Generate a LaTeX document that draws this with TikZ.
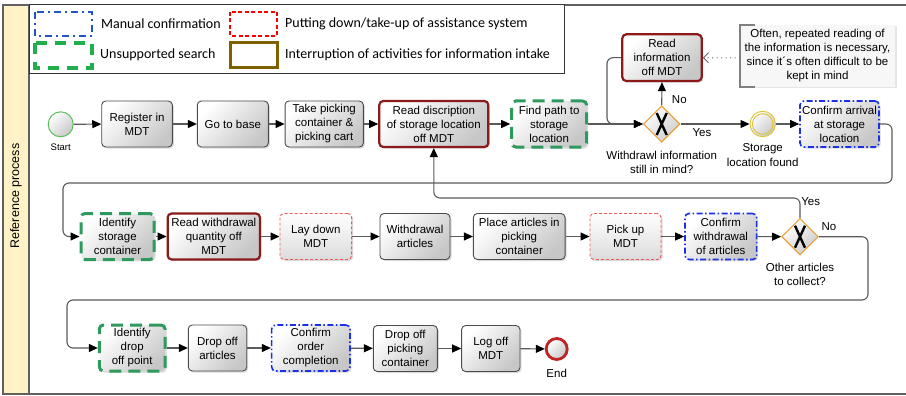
\documentclass[tikz,border=0pt]{standalone}
\usepackage{fontspec}
\setmainfont{Liberation Sans}
\newfontfamily\legendfont{Carlito}
\usetikzlibrary{arrows.meta,shapes.geometric,shadows}

\definecolor{lanefill}{HTML}{FFF2C6}
\definecolor{frame}{HTML}{606060}
\definecolor{interrupt}{HTML}{8B1A1A}
\definecolor{search}{HTML}{2E9A5E}
\definecolor{putdown}{HTML}{F05A5A}
\definecolor{confirm}{HTML}{1A30E8}
\definecolor{legblue}{HTML}{2454C4}
\definecolor{leggreen}{HTML}{1FB04C}
\definecolor{legred}{HTML}{FF0000}
\definecolor{legbrown}{HTML}{7F6000}
\definecolor{gateline}{HTML}{E8A33C}
\definecolor{startline}{HTML}{5CC05C}
\definecolor{foundline}{HTML}{E0C23A}
\definecolor{endline}{HTML}{C02424}
\definecolor{flowline}{HTML}{5A5A5A}

\tikzset{
  txt/.style={font=\fontsize{11.5}{14}\selectfont, align=center},
  task/.style={txt, rectangle, rounded corners=4pt, draw=black!70, line width=0.9pt,
    top color=white, bottom color=black!22, shading angle=45,
    minimum height=46pt, inner sep=0pt,
    drop shadow={shadow xshift=1.5pt, shadow yshift=-1.5pt, opacity=0.25, fill=black!60}},
  readtask/.style={task, draw=interrupt, line width=2.2pt},
  searchtask/.style={task, draw=search, line width=3pt, dash pattern=on 12pt off 7pt},
  puttask/.style={task, draw=putdown, line width=0.9pt, dash pattern=on 3pt off 2pt,
    bottom color=black!14},
  conftask/.style={task, draw=confirm, line width=1.6pt,
    dash pattern=on 6pt off 2.5pt on 1.5pt off 2.5pt},
  gateway/.style={diamond, aspect=1, draw=gateline, line width=1.1pt,
    minimum width=36.6pt, minimum height=36.6pt, inner sep=0pt,
    top color=white, bottom color=black!20, shading angle=45,
    path picture={
      \draw[line width=2.4pt, black]
        ([xshift=-5pt,yshift=-11pt]path picture bounding box.center) --
        ([xshift=5pt,yshift=11pt]path picture bounding box.center)
        ([xshift=-5pt,yshift=11pt]path picture bounding box.center) --
        ([xshift=5pt,yshift=-11pt]path picture bounding box.center);}},
  event/.style={circle, inner sep=0pt, top color=white, bottom color=black!22, shading angle=45},
  flow/.style={draw=flowline, line width=1.1pt, rounded corners=6pt,
    -{Triangle[length=9pt,width=8pt,color=black]}},
  lbl/.style={txt, inner sep=0pt},
  legtxt/.style={font=\legendfont\fontsize{14}{16}\selectfont, anchor=west, inner sep=0pt},
}

\begin{document}
\begin{tikzpicture}[x=1pt,y=-1pt]
\useasboundingbox (0,0) rectangle (906,396);

% pool lane
\fill[lanefill] (3,5) rectangle (29,394);
\draw[frame, line width=1.2pt] (906,5) -- (3,5) -- (3,394) -- (906,394);
\draw[frame, line width=1.2pt] (29,5) -- (29,394);
\node[rotate=90, font=\fontsize{12.5}{15}\selectfont] (lane) at (16,196) {Reference process};

% legend
\draw[fill=white, draw=black!80, line width=1pt] (29,5) rectangle (564,74);
\draw[legblue, line width=2.5pt, dash pattern=on 7pt off 4pt on 2pt off 4pt] (35,12) rectangle (92,36);
\draw[leggreen, line width=3.5pt, dash pattern=on 11pt off 8pt] (35,43) rectangle (92,68);
\draw[legred, line width=1.8pt, dash pattern=on 4pt off 2.5pt] (230,12) rectangle (277,36);
\draw[legbrown, line width=3pt] (230,43) rectangle (277,68);
\node[legtxt] (lg1) at (101,24) {Manual confirmation};
\node[legtxt] (lg2) at (100,55) {Unsupported search};
\node[legtxt] (lg3) at (285,24) {Putting down/take-up of assistance system};
\node[legtxt] (lg4) at (285,55) {Interruption of activities for information intake};

% row 1
\node[event, draw=startline, line width=1pt, minimum size=25pt] (start) at (60.7,124.3) {};
\node[lbl, font=\fontsize{9.5}{11}\selectfont] (startl) at (60.7,147.7) {Start};
\node[task, minimum width=70.6pt] (register) at (137,124) {Register in\\MDT};
\node[task, minimum width=71pt] (base) at (232.8,124) {Go to base};
\node[task, minimum width=78.3pt] (take) at (324.2,124) {Take picking\\container \&\\picking cart};
\node[readtask, minimum width=109pt] (readdesc) at (433.8,124) {Read discription\\of storage location\\off MDT};
\node[searchtask, minimum width=75pt] (findpath) at (549.2,124) {Find path to\\storage\\location};
\node[gateway] (gw1) at (661.7,124) {};
\node[lbl] (gw1l) at (661.7,162) {Withdrawl information\\still in mind?};
\node[readtask, minimum width=79.4pt, minimum height=46.7pt] (readinfo) at (662,57.7) {Read\\information\\off MDT};
\node[event, draw=foundline, line width=0.9pt, minimum size=25.5pt] (found) at (762.7,124) {};
\draw[foundline, line width=0.9pt] (found.center) circle (10.3);
\node[lbl, font=\fontsize{11.5}{15}\selectfont] (foundl) at (762.7,155.5) {Storage\\location found};
\node[conftask, minimum width=79pt] (confarr) at (839.5,124) {Confirm arrival\\at storage\\location};

% annotation
\fill[black!3, drop shadow={shadow xshift=1.5pt, shadow yshift=-1.5pt, opacity=0.2}] (740,25) rectangle (895,87);
\draw[black!50, line width=1.4pt] (755,25) -- (740,25) -- (740,87) -- (755,87);
\coordinate (note) at (740,58);
\node[lbl] (notel) at (817.5,56) {Often, repeated reading of\\the information is necessary,\\since it\char"00B4 s often difficult to be\\kept in mind};

% row 2
\node[searchtask, minimum width=73pt] (identify) at (117.5,236.5) {Identify\\storage\\container};
\node[readtask, minimum width=92.3pt] (readqty) at (213.8,236.5) {Read withdrawal\\quantity off\\MDT};
\node[puttask, minimum width=71.7pt] (laydown) at (315.8,236.5) {Lay down\\MDT};
\node[task, minimum width=70pt] (withdraw) at (415,236.5) {Withdrawal\\articles};
\node[task, minimum width=91.7pt] (place) at (519.2,236.5) {Place articles in\\picking\\container};
\node[puttask, minimum width=71pt] (pickup) at (625.5,236.5) {Pick up\\MDT};
\node[conftask, minimum width=71.7pt] (confwd) at (720.8,236.5) {Confirm\\withdrawal\\of articles};
\node[gateway] (gw2) at (800,236.7) {};
\node[lbl] (gw2l) at (800,274) {Other articles\\to collect?};

% row 3
\node[searchtask, minimum width=65.7pt] (dropid) at (132.2,348) {Identify\\drop\\off point};
\node[task, minimum width=58.4pt] (dropart) at (217.5,348) {Drop off\\articles};
\node[conftask, minimum width=78.3pt] (conford) at (310.8,348) {Confirm\\order\\completion};
\node[task, minimum width=64pt] (droppick) at (405.3,348.5) {Drop off\\picking\\container};
\node[task, minimum width=58.3pt] (logoff) at (490.8,348.5) {Log off\\MDT};
\node[event, draw=endline, line width=2.8pt, minimum size=21pt] (end) at (556.7,349) {};
\node[lbl] (endl) at (556.7,373.3) {End};

% loop corners
\coordinate (l1a) at (892,183);
\coordinate (l1b) at (63,183);
\coordinate (l2) at (433.8,198);
\coordinate (l3a) at (868,300);
\coordinate (l3b) at (67,300);
\coordinate (l4) at (607,124);

% sequence flows
\draw[flow] (start) -- (register);
\draw[flow] (register) -- (base);
\draw[flow] (base) -- (take);
\draw[flow] (take) -- (readdesc);
\draw[flow] (readdesc) -- (findpath);
\draw[flow] (findpath) -- (gw1);
\draw[flow] (readinfo.west) -| (l4) -- (gw1.west);
\draw[flow] (gw1.north) -- (readinfo.south);
\draw[flow] (gw1.east) -- (found.west);
\draw[flow] (found.east) -- (confarr.west);
\draw[flow] (confarr.east) -| (l1a) -- (l1b) |- (identify.west);

\draw[flow] (identify) -- (readqty);
\draw[flow] (readqty) -- (laydown);
\draw[flow] (laydown) -- (withdraw);
\draw[flow] (withdraw) -- (place);
\draw[flow] (place) -- (pickup);
\draw[flow] (pickup) -- (confwd);
\draw[flow] (confwd) -- (gw2.west);
\draw[flow] (gw2.north) |- (l2) -- (readdesc.south);
\draw[flow] (gw2.east) -| (l3a) -- (l3b) |- (dropid.west);

\draw[flow] (dropid) -- (dropart);
\draw[flow] (dropart) -- (conford);
\draw[flow] (conford) -- (droppick);
\draw[flow] (droppick) -- (logoff);
\draw[flow] (logoff) -- (end);

% association to the annotation
\draw[black!60, line width=1pt, dash pattern=on 1pt off 3.5pt, -{Straight Barb[length=5pt,width=10pt]}] (note) -- (readinfo.east);

% gateway branch labels
\node[lbl] (no1) at (679.3,99.3) {No};
\node[lbl] (yes1) at (702,132.7) {Yes};
\node[lbl] (yes2) at (810.7,201.7) {Yes};
\node[lbl] (no2) at (829,226.7) {No};
\end{tikzpicture}
\end{document}
